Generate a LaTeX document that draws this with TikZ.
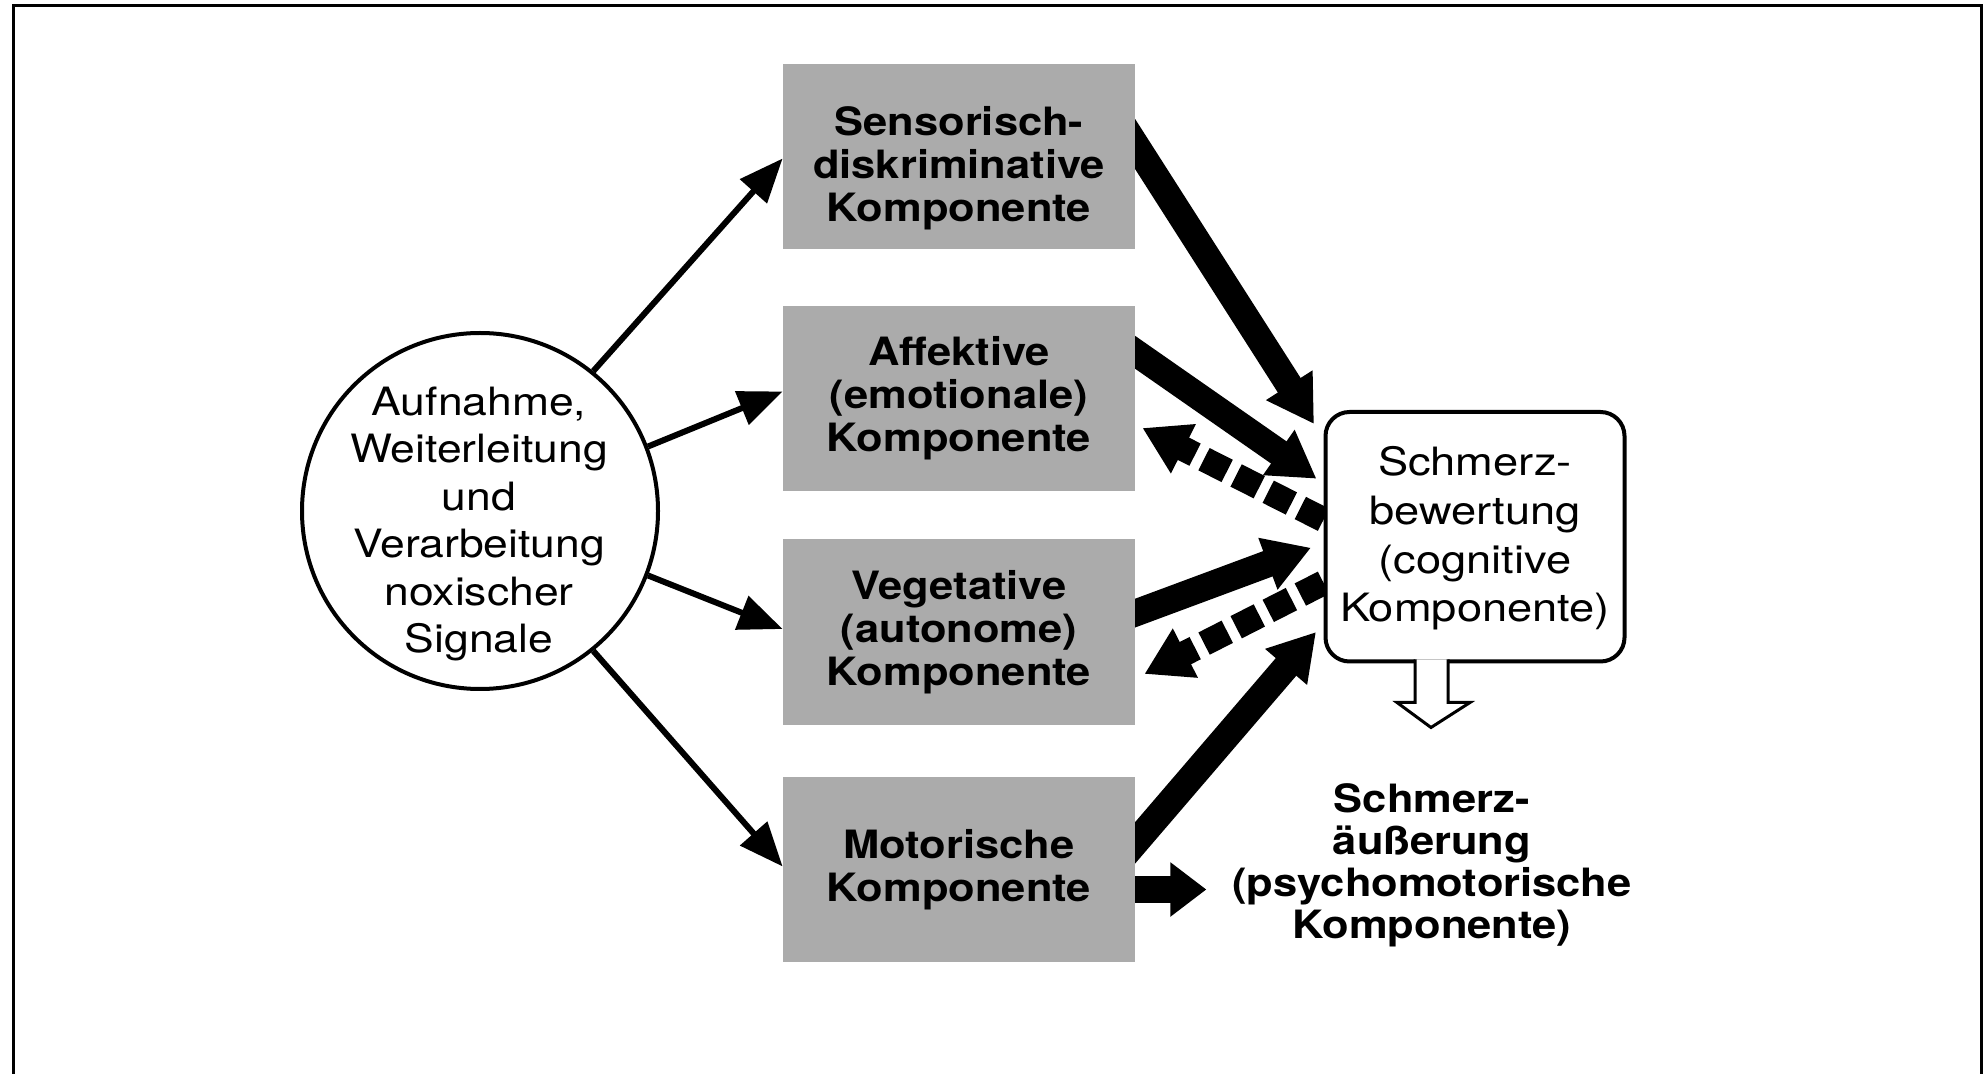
\documentclass[tikz,border=0pt]{standalone}
\usepackage{fontspec}
\setmainfont{TeX Gyre Heros}
\newfontfamily\circfont[FakeStretch=1.14]{TeX Gyre Heros}
\newfontfamily\cogfont[FakeStretch=1.16]{TeX Gyre Heros}
\newfontfamily\boxfont[FakeStretch=1.115]{TeX Gyre Heros}
\usetikzlibrary{arrows.meta,calc}
\definecolor{boxgray}{gray}{0.67}
\pgfdeclarelayer{bg}
\pgfsetlayers{bg,main}
\begin{document}
\begin{tikzpicture}[x=0.5pt,y=-0.5pt,
  comp/.style={fill=boxgray, minimum width=176pt, minimum height=92.5pt,
    inner sep=0pt, align=center,
    font=\boxfont\bfseries\fontsize{19.5}{21.5}\selectfont},
  thinarr/.style={line width=3pt, -{Triangle[length=22pt,width=17.5pt]}},
  fatarr/.style={line width=13.5pt, shorten <=-12pt,
    -{Triangle[length=23pt,width=26pt]}},
  dasharr/.style={line width=12.5pt, dash pattern=on 13pt off 5pt,
    -{Triangle[length=23pt,width=26pt]}},
]
\useasboundingbox (0,0) rectangle (1987,1074);
% frame (open at bottom)
\draw[line width=1.5pt] (13,1074) -- (13,5.5) -- (1981.5,5.5) -- (1981.5,1074);

% component boxes
\node[comp] (s1) at (959,156.5) {};
\node[align=center, font=\boxfont\bfseries\fontsize{19.5}{21.5}\selectfont] (s1t) at (959,168)
  {Sensorisch-\\diskriminative\\Komponente};
\node[comp] (s2) at (959,398.5) {Affektive\\(emotionale)\\Komponente};
\node[comp] (s3) at (959,632) {Vegetative\\(autonome)\\Komponente};
\node[comp] (s4) at (959,869.5) {Motorische\\Komponente};

% input circle
\node[circle, draw, line width=2pt, minimum size=178pt, inner sep=0pt] (c) at (480,511) {};
\node[align=center, font=\circfont\fontsize{19.5}{23.75}\selectfont] (ct) at (479,524)
  {Aufnahme,\\Weiterleitung\\und\\Verarbeitung\\noxischer\\Signale};

% cognitive evaluation box
\node[draw, line width=2pt, rounded corners=12pt, fill=white,
  minimum width=149.5pt, minimum height=124.75pt, inner sep=0pt] (g) at (1475,536.75) {};
\node[align=center, font=\cogfont\fontsize{19.5}{24.3}\selectfont] (gt) at (1475,538.5)
  {Schmerz-\\bewertung\\(cognitive\\Komponente)};

% open arrow below cognitive box
\draw[line width=1.5pt, fill=white, line join=miter]
  ($(g.south)+(-60,-4)$) -- ($(g.south)+(-60,39)$) -- ($(g.south)+(-78,39)$)
  -- ($(g.south)+(-44,64)$) -- ($(g.south)+(-5,39)$) -- ($(g.south)+(-27,39)$)
  -- ($(g.south)+(-27,-4)$);

% pain expression text
\node[align=center, font=\boxfont\bfseries\fontsize{19.5}{21}\selectfont] (e) at (1432,865)
  {Schmerz-\\äußerung\\(psychomotorische\\Komponente)};

% thin arrows from circle
\draw[thinarr] (c.51) -- ($(s1.west)+(0,2)$);
\draw[thinarr] (c.21) -- ($(s2.west)+(0,-7)$);
\draw[thinarr] (c.-21) -- ($(s3.west)+(0,-3)$);
\draw[thinarr] (c.-51) -- ($(s4.west)+(0,-3)$);

% thick arrows to / from cognitive box
\begin{pgfonlayer}{bg}
\draw[fatarr] ($(s1.east)+(0,-12)$) -- ($(g.north west)+(-9.5,14)$);
\draw[fatarr] ($(s2.east)+(0,-46)$) -- ($(g.west)+(-7,-58)$);
\draw[dasharr] ($(g.west)+(0,-17)$) -- ($(s2.east)+(7,29.5)$);
\draw[fatarr] ($(s3.east)+(0,-19)$) -- ($(g.west)+(-12.5,11)$);
\draw[dasharr] ($(g.west)+(0,46)$) -- ($(s3.east)+(9,42)$);
\draw[fatarr] ($(s4.east)+(0,-27)$) -- ($(g.south west)+(-7.5,-31.5)$);
\draw[fatarr, shorten <=0pt, -{Triangle[length=18pt,width=26pt]}] ($(s4.east)+(0,20)$) -- ($(s4.east)+(71,20)$);
\end{pgfonlayer}
\end{tikzpicture}
\end{document}
